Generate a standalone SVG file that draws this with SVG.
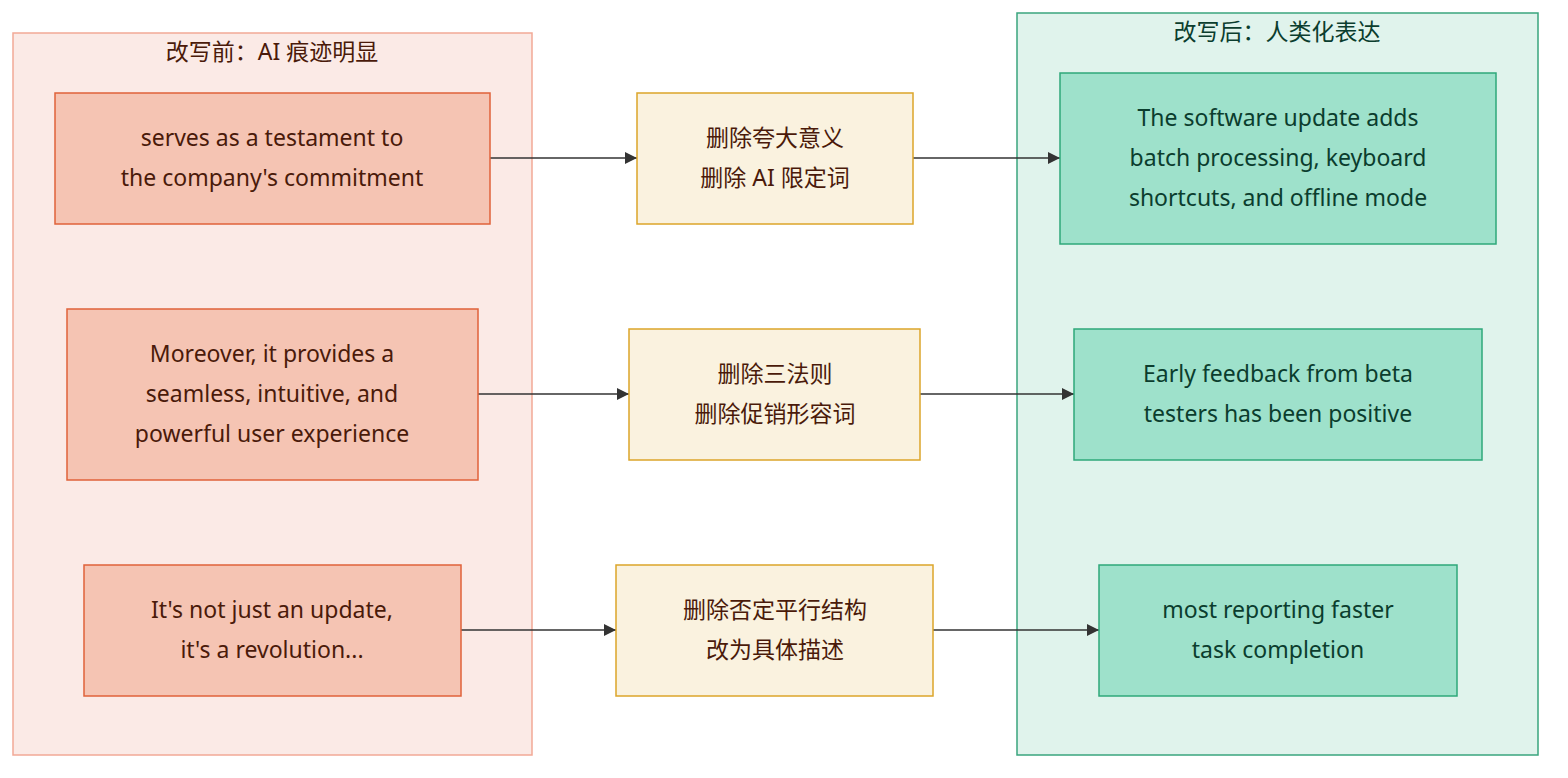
<svg xmlns="http://www.w3.org/2000/svg" width="1568" height="778" viewBox="0 0 1568 778">
<style>
text{font-family:"Noto Sans","Noto Sans CJK SC",sans-serif;font-size:23px;text-anchor:middle;fill:#4a1a0a}
.red{fill:#f5c4b3;stroke:#e0623a;stroke-width:1.5}
.yel{fill:#faf2df;stroke:#dca52a;stroke-width:1.5}
.grn{fill:#9ee1cb;stroke:#2ea87a;stroke-width:1.5}
.g text{fill:#0b3d2e}
.e{stroke:#333;stroke-width:1.5;fill:none;marker-end:url(#a)}
</style>
<defs><marker id="a" viewBox="0 0 10 10" refX="10" refY="5" markerWidth="8" markerHeight="8" orient="auto"><path d="M0,0L10,5L0,10z" fill="#333"/></marker></defs>
<g id="before"><rect x="13" y="33" width="519" height="722" fill="#fbeae6" stroke="#f2a996" stroke-width="1.5"/><text x="272" y="60">改写前：AI 痕迹明显</text></g>
<g id="after"><rect x="1017" y="13" width="521" height="742" fill="#e0f3ec" stroke="#3aa57e" stroke-width="1.5"/><text x="1277" y="40" style="fill:#0b3d2e">改写后：人类化表达</text></g>
<g id="connectors">
<path class="e" d="M490,158H637"/><path class="e" d="M913,158H1060"/>
<path class="e" d="M478,394H629"/><path class="e" d="M920,394H1074"/>
<path class="e" d="M461,630H616"/><path class="e" d="M933,630H1099"/>
</g>
<g id="r1"><rect class="red" x="55" y="93" width="435" height="131"/><text x="272" y="146">serves as a testament to</text><text x="272" y="186">the company's commitment</text></g>
<g id="r2"><rect class="red" x="67" y="309" width="411" height="171"/><text x="272" y="362">Moreover, it provides a</text><text x="272" y="402">seamless, intuitive, and</text><text x="272" y="442">powerful user experience</text></g>
<g id="r3"><rect class="red" x="84" y="565" width="377" height="131"/><text x="272" y="618">It's not just an update,</text><text x="272" y="658">it's a revolution...</text></g>
<g id="y1"><rect class="yel" x="637" y="93" width="276" height="131"/><text x="775" y="146">删除夸大意义</text><text x="775" y="186">删除 AI 限定词</text></g>
<g id="y2"><rect class="yel" x="629" y="329" width="291" height="131"/><text x="775" y="382">删除三法则</text><text x="775" y="422">删除促销形容词</text></g>
<g id="y3"><rect class="yel" x="616" y="565" width="317" height="131"/><text x="775" y="618">删除否定平行结构</text><text x="775" y="658">改为具体描述</text></g>
<g id="g1" class="g"><rect class="grn" x="1060" y="73" width="436" height="171"/><text x="1278" y="126">The software update adds</text><text x="1278" y="166">batch processing, keyboard</text><text x="1278" y="206">shortcuts, and offline mode</text></g>
<g id="g2" class="g"><rect class="grn" x="1074" y="329" width="408" height="131"/><text x="1278" y="382">Early feedback from beta</text><text x="1278" y="422">testers has been positive</text></g>
<g id="g3" class="g"><rect class="grn" x="1099" y="565" width="358" height="131"/><text x="1278" y="618">most reporting faster</text><text x="1278" y="658">task completion</text></g>
</svg>
